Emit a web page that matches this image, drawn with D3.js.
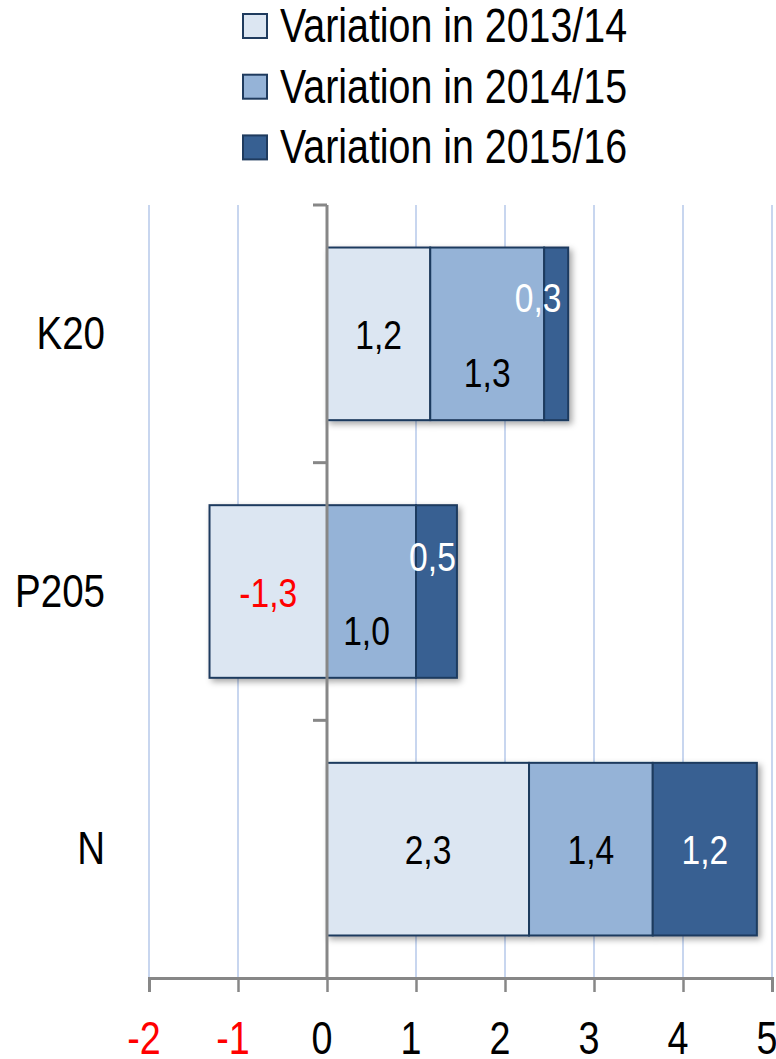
<!DOCTYPE html>
<html>
<head>
<meta charset="utf-8">
<script src="https://cdn.jsdelivr.net/npm/d3@7"></script>
<style>
  html, body { margin: 0; padding: 0; background: #ffffff; }
  svg text { font-family: "Liberation Sans", Arial, sans-serif; }
</style>
</head>
<body>
<div id="chart"></div>
<script>
// data
var categories  = ['K20', 'P205', 'N'];
var series      = ['Variation in 2013/14', 'Variation in 2014/15', 'Variation in 2015/16'];
var var_2013_14 = [1.16, -1.32, 2.27];
var var_2014_15 = [1.28, 1.00, 1.39];
var var_2015_16 = [0.27, 0.46, 1.17];
var x_ticks     = [-2, -1, 0, 1, 2, 3, 4, 5];

// chart params
var svg_width  = 776;
var svg_height = 1059;
var left   = 149;
var right  = 772;
var top_y  = 205;
var bottom = 978;
var narrow = 0.82;   // horizontal squeeze, no narrow font installed

var fill_colors  = ['#dce6f2', '#95b3d7', '#376092'];
var label_colors = ['#000000', '#000000', '#ffffff'];
var border_color = '#1f3b5e';
var axis_color   = '#878787';
var grid_color   = '#b6c8ea';

// label nudges (manually moved labels in the original)
var label_nudge = {
  'K20|1':  [0, 38],  'K20|2':  [-18, -37],
  'P205|1': [-5, 38], 'P205|2': [-4, -36]
};

var data = categories.map(function(c, i) {
  return { category: c, s0: var_2013_14[i], s1: var_2014_15[i], s2: var_2015_16[i] };
});

var svg = d3.select('#chart')
  .append('svg')
  .attr('width', svg_width)
  .attr('height', svg_height);

// narrow text helper
function narrowText(parent, x, y, str, size, anchor, color) {
  return parent.append('text')
    .attr('transform', 'translate(' + x + ',' + y + ') scale(' + narrow + ',1)')
    .attr('text-anchor', anchor)
    .attr('font-size', size + 'px')
    .attr('fill', color)
    .text(str);
}

var defs = svg.append('defs');
var shadow = defs.append('filter')
  .attr('id', 'shadow')
  .attr('x', '-10%').attr('y', '-10%')
  .attr('width', '130%').attr('height', '130%');
shadow.append('feDropShadow')
  .attr('dx', 3).attr('dy', 3)
  .attr('stdDeviation', 3)
  .attr('flood-color', '#000')
  .attr('flood-opacity', 0.35);

// scales
var x_scale = d3.scaleLinear()
  .domain([-2, 5])
  .range([left, right]);

var y_scale = d3.scaleBand()
  .domain(categories)
  .range([top_y, bottom])
  .padding(0);

// gridlines
svg.append('g')
  .selectAll('line')
  .data(x_ticks)
  .enter()
  .append('line')
  .attr('x1', function(d) { return x_scale(d); })
  .attr('x2', function(d) { return x_scale(d); })
  .attr('y1', top_y)
  .attr('y2', bottom)
  .attr('stroke', grid_color)
  .attr('stroke-width', 1.5);

// stack (diverging so the negative value goes left of zero)
var stack = d3.stack()
  .keys(['s0', 's1', 's2'])
  .offset(d3.stackOffsetDiverging);
var stack_data = stack(data);

var bar_h   = y_scale.bandwidth() * 0.67;
var bar_off = (y_scale.bandwidth() - bar_h) / 2;

var bars = svg.append('g').attr('filter', 'url(#shadow)');
stack_data.forEach(function(layer, k) {
  bars.selectAll('rect.s' + k)
    .data(layer)
    .enter()
    .append('rect')
    .attr('class', 's' + k)
    .attr('x', function(d) { return x_scale(Math.min(d[0], d[1])); })
    .attr('y', function(d) { return y_scale(d.data.category) + bar_off; })
    .attr('width', function(d) { return Math.abs(x_scale(d[1]) - x_scale(d[0])); })
    .attr('height', bar_h)
    .attr('fill', fill_colors[k])
    .attr('stroke', border_color)
    .attr('stroke-width', 2);
});

// left axis (at zero)
var y_axis_g = svg.append('g');
y_axis_g.append('line')
  .attr('x1', x_scale(0)).attr('x2', x_scale(0))
  .attr('y1', top_y).attr('y2', bottom)
  .attr('stroke', axis_color).attr('stroke-width', 3);
y_axis_g.selectAll('line.tick')
  .data(categories)
  .enter()
  .append('line')
  .attr('class', 'tick')
  .attr('x1', x_scale(0) - 14).attr('x2', x_scale(0))
  .attr('y1', function(d) { return y_scale(d); })
  .attr('y2', function(d) { return y_scale(d); })
  .attr('stroke', axis_color).attr('stroke-width', 3);

// category labels
var cat_g = svg.append('g');
categories.forEach(function(c) {
  narrowText(cat_g, 105, y_scale(c) + y_scale.bandwidth() / 2 + 15, c, 47, 'end', '#000');
});

// bottom axis
var x_axis = d3.axisBottom(x_scale)
  .tickValues(x_ticks)
  .tickSize(14)
  .tickFormat('');
var x_axis_g = svg.append('g')
  .attr('transform', 'translate(0,' + bottom + ')')
  .call(x_axis);
x_axis_g.select('.domain')
  .attr('stroke', axis_color).attr('stroke-width', 3);
x_axis_g.selectAll('.tick line')
  .attr('stroke', axis_color).attr('stroke-width', 2.5);
x_axis_g.selectAll('.tick text').remove();

var tick_g = svg.append('g');
x_ticks.forEach(function(t) {
  narrowText(tick_g, x_scale(t) - 5, 1054, String(t).replace('−', '-'), 46, 'middle',
    t < 0 ? '#ff0000' : '#000000');
});

// data labels
var fmt = function(v) { return d3.format('.1f')(v).replace('.', ',').replace('−', '-'); };
var labels = svg.append('g');
stack_data.forEach(function(layer, k) {
  layer.forEach(function(d) {
    var n = label_nudge[d.data.category + '|' + k] || [0, 0];
    var v = d.data['s' + k];
    var lx = (x_scale(d[0]) + x_scale(d[1])) / 2 + n[0];
    var ly = y_scale(d.data.category) + y_scale.bandwidth() / 2 + 15 + n[1];
    narrowText(labels, lx, ly, fmt(v), 41, 'middle', v < 0 ? '#ff0000' : label_colors[k]);
  });
});

// legend
var legend = svg.append('g');
series.forEach(function(name, i) {
  var cy = 26 + i * 60.7;
  legend.append('rect')
    .attr('x', 243).attr('y', cy - 12)
    .attr('width', 24).attr('height', 24)
    .attr('fill', fill_colors[i])
    .attr('stroke', border_color)
    .attr('stroke-width', 2);
  narrowText(legend, 280, cy + 16, name, 48, 'start', '#000');
});
</script>
</body>
</html>
